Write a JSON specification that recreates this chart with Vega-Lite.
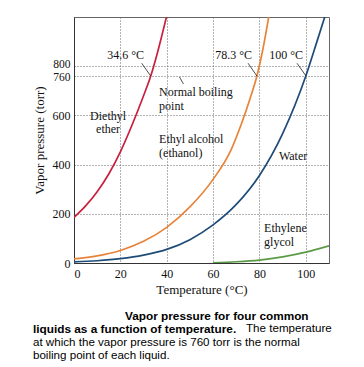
{
  "$schema": "https://vega.github.io/schema/vega-lite/v6.json",
  "width": 255,
  "height": 246,
  "autosize": {"type": "none"},
  "padding": {"left": 74, "top": 17, "right": 35, "bottom": 104},
  "background": "white",
  "config": {
    "font": "Liberation Serif",
    "view": {"stroke": "#666", "strokeWidth": 1},
    "axis": {"labelFont": "Liberation Serif", "titleFont": "Liberation Serif", "labelColor": "#111", "titleColor": "#111", "titleFontWeight": "normal"}
  },
  "datasets": {
    "curves": [
      {"liquid": "Diethyl ether", "T": 0, "P": 185},
      {"liquid": "Diethyl ether", "T": 5, "P": 232},
      {"liquid": "Diethyl ether", "T": 10, "P": 290},
      {"liquid": "Diethyl ether", "T": 15, "P": 362},
      {"liquid": "Diethyl ether", "T": 20, "P": 452},
      {"liquid": "Diethyl ether", "T": 25, "P": 560},
      {"liquid": "Diethyl ether", "T": 30, "P": 680},
      {"liquid": "Diethyl ether", "T": 33.1, "P": 760},
      {"liquid": "Diethyl ether", "T": 36, "P": 855},
      {"liquid": "Diethyl ether", "T": 40, "P": 1005},
      {"liquid": "Ethyl alcohol", "T": 0, "P": 17},
      {"liquid": "Ethyl alcohol", "T": 10, "P": 29},
      {"liquid": "Ethyl alcohol", "T": 20, "P": 51},
      {"liquid": "Ethyl alcohol", "T": 30, "P": 88},
      {"liquid": "Ethyl alcohol", "T": 40, "P": 145},
      {"liquid": "Ethyl alcohol", "T": 50, "P": 228},
      {"liquid": "Ethyl alcohol", "T": 60, "P": 340},
      {"liquid": "Ethyl alcohol", "T": 67.7, "P": 459},
      {"liquid": "Ethyl alcohol", "T": 72, "P": 560},
      {"liquid": "Ethyl alcohol", "T": 76, "P": 670},
      {"liquid": "Ethyl alcohol", "T": 78.9, "P": 760},
      {"liquid": "Ethyl alcohol", "T": 81.5, "P": 870},
      {"liquid": "Ethyl alcohol", "T": 84, "P": 1000},
      {"liquid": "Water", "T": 0, "P": 4.6},
      {"liquid": "Water", "T": 10, "P": 9.2},
      {"liquid": "Water", "T": 20, "P": 17.5},
      {"liquid": "Water", "T": 30, "P": 31.8},
      {"liquid": "Water", "T": 40, "P": 55.3},
      {"liquid": "Water", "T": 50, "P": 95},
      {"liquid": "Water", "T": 60, "P": 155},
      {"liquid": "Water", "T": 70, "P": 238},
      {"liquid": "Water", "T": 80, "P": 356},
      {"liquid": "Water", "T": 90, "P": 526},
      {"liquid": "Water", "T": 100, "P": 760},
      {"liquid": "Water", "T": 105, "P": 906},
      {"liquid": "Water", "T": 108.5, "P": 1010},
      {"liquid": "Ethylene glycol", "T": 60, "P": 1},
      {"liquid": "Ethylene glycol", "T": 70, "P": 5},
      {"liquid": "Ethylene glycol", "T": 80, "P": 12},
      {"liquid": "Ethylene glycol", "T": 90, "P": 25},
      {"liquid": "Ethylene glycol", "T": 100, "P": 44},
      {"liquid": "Ethylene glycol", "T": 110, "P": 70}
    ],
    "leaders": [
      {"T": 29.2, "P": 812, "T2": 33.1, "P2": 760},
      {"T": 75.1, "P": 812, "T2": 78.9, "P2": 760},
      {"T": 96.2, "P": 812, "T2": 100.1, "P2": 760},
      {"T": 45.5, "P": 756, "T2": 47.2, "P2": 728}
    ],
    "centerLabels": [
      {"text": "34.6 °C", "T": 22.3, "P": 845},
      {"text": "78.3 °C", "T": 68.9, "P": 845},
      {"text": "100 °C", "T": 91.5, "P": 845},
      {"text": "Diethyl", "T": 14.7, "P": 598},
      {"text": "ether", "T": 14.7, "P": 545}
    ],
    "leftLabels": [
      {"text": "Normal boiling", "T": 36.7, "P": 695},
      {"text": "point", "T": 36.7, "P": 638},
      {"text": "Ethyl alcohol", "T": 36.7, "P": 504},
      {"text": "(ethanol)", "T": 36.7, "P": 447},
      {"text": "Water", "T": 88.4, "P": 435},
      {"text": "Ethylene", "T": 82, "P": 142},
      {"text": "glycol", "T": 82, "P": 85}
    ],
    "captionBold": [
      {"text": "Vapor pressure for four common", "T": 22.0, "P": -215},
      {"text": "liquids as a function of temperature.", "T": -17.7, "P": -270}
    ],
    "captionPlain": [
      {"text": "The temperature", "T": 74.2, "P": -270},
      {"text": "at which the vapor pressure is 760 torr is the normal", "T": -17.7, "P": -325},
      {"text": "boiling point of each liquid.", "T": -17.7, "P": -379}
    ]
  },
  "layer": [
    {
      "data": {"name": "curves"},
      "mark": {"type": "line", "clip": true, "strokeWidth": 1.7, "interpolate": "monotone"},
      "encoding": {
        "x": {"field": "T", "type": "quantitative", "scale": {"domain": [0, 110], "nice": false},
          "axis": {"values": [0, 20, 40, 60, 80, 100], "title": "Temperature (°C)", "labelFontSize": 12, "titleFontSize": 13, "ticks": false, "labelPadding": 5, "titlePadding": 4, "grid": true, "gridDash": [1, 2], "gridColor": "#666", "gridOpacity": 1, "domainColor": "#333"}},
        "y": {"field": "P", "type": "quantitative", "scale": {"domain": [0, 1000], "nice": false},
          "axis": {"values": [0, 200, 400, 600, 760, 800], "labelOverlap": false, "title": "Vapor pressure (torr)",
            "labelFontSize": {"condition": {"test": "datum.value == 760 || datum.value == 800", "value": 11.5}, "value": 12},
            "labelOffset": {"condition": [{"test": "datum.value == 800", "value": -1.5}, {"test": "datum.value == 760", "value": 1.5}], "value": 0},
            "titleFontSize": 13, "ticks": false, "labelPadding": 4, "titlePadding": 6, "grid": true, "gridDash": [1, 2], "gridColor": "#666", "gridOpacity": 1, "domainColor": "#333"}},
        "color": {"field": "liquid", "type": "nominal",
          "scale": {"domain": ["Diethyl ether", "Ethyl alcohol", "Water", "Ethylene glycol"], "range": ["#c8203f", "#e8843a", "#1f4b78", "#5b9a45"]},
          "legend": null}
      }
    },
    {
      "mark": {"type": "rule", "color": "#000", "strokeWidth": 1},
      "encoding": {"y": {"datum": 760, "type": "quantitative"}}
    },
    {
      "data": {"name": "leaders"},
      "mark": {"type": "rule", "color": "#222", "strokeWidth": 0.8},
      "encoding": {
        "x": {"field": "T", "type": "quantitative"},
        "y": {"field": "P", "type": "quantitative"},
        "x2": {"field": "T2"},
        "y2": {"field": "P2"}
      }
    },
    {
      "data": {"name": "centerLabels"},
      "mark": {"type": "text", "align": "center", "baseline": "middle", "fontSize": 12, "font": "Liberation Serif", "color": "#111"},
      "encoding": {
        "x": {"field": "T", "type": "quantitative"},
        "y": {"field": "P", "type": "quantitative"},
        "text": {"field": "text"}
      }
    },
    {
      "data": {"name": "leftLabels"},
      "mark": {"type": "text", "align": "left", "baseline": "middle", "fontSize": 12, "font": "Liberation Serif", "color": "#111"},
      "encoding": {
        "x": {"field": "T", "type": "quantitative"},
        "y": {"field": "P", "type": "quantitative"},
        "text": {"field": "text"}
      }
    },
    {
      "data": {"name": "captionBold"},
      "mark": {"type": "text", "align": "left", "baseline": "middle", "fontSize": 11.8, "fontWeight": "bold", "font": "Liberation Sans", "color": "#000"},
      "encoding": {
        "x": {"field": "T", "type": "quantitative"},
        "y": {"field": "P", "type": "quantitative"},
        "text": {"field": "text"}
      }
    },
    {
      "data": {"name": "captionPlain"},
      "mark": {"type": "text", "align": "left", "baseline": "middle", "fontSize": 11.6, "font": "Liberation Sans", "color": "#000"},
      "encoding": {
        "x": {"field": "T", "type": "quantitative"},
        "y": {"field": "P", "type": "quantitative"},
        "text": {"field": "text"}
      }
    }
  ]
}
